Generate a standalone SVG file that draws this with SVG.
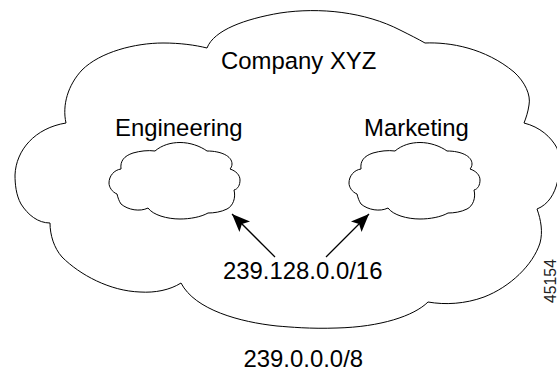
<svg xmlns="http://www.w3.org/2000/svg" width="557" height="371" viewBox="0 0 557 371">
<style>
.c{fill:none;stroke:#000;stroke-width:1}
.t{font-family:"Liberation Sans",Arial,sans-serif;font-size:23.9px;fill:#000}
.a{stroke:#000;stroke-width:1.3;fill:none}
</style>
<defs>
<path id="sc" d="M155 151C162 145 171 142.500 180 142.500C190 142.500 200 146 207 151C221 151 232 156 232 164C232 166 231 168 230 169C236 171 240 175 240 180C240 185 238 189 234 190C236 198 233 206 227 209C221 212 214 213 208 213C201 217 190 219 180 219C167 219 153 215 148 208C140 212 128 210 121 204C119 201 118 198 117 194C112 192 109 187 109 183C109 176 114 170 121 169C120 161 124 156 133 153C140 151 148 150 155 151Z"/>
<marker id="ah" markerUnits="userSpaceOnUse" markerWidth="20" markerHeight="20" refX="18" refY="7.500" orient="auto" viewBox="0 0 20 15"><path d="M0 0L18 7.500L0 15L4 7.500Z" fill="#000"/></marker>
</defs>
<g id="company-cloud"><path class="c" d="M207 48C214 30 245 19 280 13C320 7 365 12 400 30C410 35 418 39 425 43C450 42 485 48 514 72C525 82 531 95 529 105C528 112 526 118 524 123C540 127 551 137 557 148C562 165 560 200 537 209C541 220 543 232 540 243C533 265 510 287 484 297C465 304 445 305 428 302C414 316 380 327 337 328C310 329 290 327 277 326C240 322 195 310 181 283C170 290 155 293 140 292C110 291 80 275 62 257C54 248 50 235 50 223C38 223 28 215 21 204C16 195 15 184 15 175C16 150 35 128 66 123C62 105 68 85 82 70C100 52 135 43 163 43C180 43 195 45 207 48Z"/></g>
<g id="engineering"><use href="#sc" class="c"/><text class="t" x="115" y="136">Engineering</text></g>
<g id="marketing"><use href="#sc" class="c" x="240"/><text class="t" x="364" y="136">Marketing</text></g>
<g id="connectors"><line class="a" x1="275" y1="257" x2="232" y2="214" marker-end="url(#ah)"/><line class="a" x1="326" y1="257" x2="369" y2="214" marker-end="url(#ah)"/></g>
<text class="t" x="221" y="69">Company XYZ</text>
<text class="t" x="223" y="279">239.128.0.0/16</text>
<text class="t" x="243.500" y="367">239.0.0.0/8</text>
<text transform="translate(555.500 303) rotate(-90)" font-family="'Liberation Sans',Arial,sans-serif" font-size="15.800" fill="#222">45154</text>
</svg>
